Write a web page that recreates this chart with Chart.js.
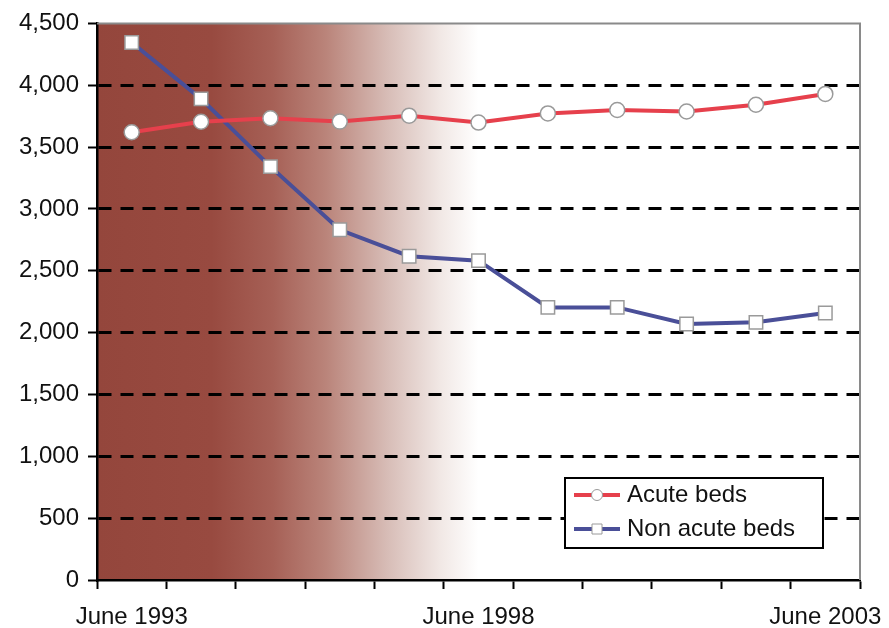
<!DOCTYPE html>
<html>
<head>
<meta charset="utf-8">
<script src="https://cdn.jsdelivr.net/npm/chart.js@4.4.0/dist/chart.umd.min.js"></script>
<style>
  html, body { margin: 0 ; padding: 0 ; background: #ffffff ; }
  #wrap { width: 889px ; height: 628px ; }
</style>
</head>
<body>
<div id="wrap"><canvas id="bedsGraph" width="889" height="628"></canvas></div>
<script>

const CATEGORIES   = [ 'June 1993', 'June 1994', 'June 1995', 'June 1996', 'June 1997', 'June 1998',
                       'June 1999', 'June 2000', 'June 2001', 'June 2002', 'June 2003' ] ;
const SHOWN_LABELS = [ 'June 1993', 'June 1998', 'June 2003' ] ;
const ACUTE_BEDS     = [ 3620, 3705, 3733, 3706, 3754, 3698, 3772, 3800, 3788, 3842, 3930 ] ;
const NON_ACUTE_BEDS = [ 4345, 3890, 3342, 2831, 2618, 2582, 2204, 2204, 2070, 2083, 2159 ] ;
const SERIES_NAMES   = [ 'Acute beds', 'Non acute beds' ] ;
const Y_TICKS_MAX  = 4500 ;
const Y_TICKS_STEP = 500 ;

const ACUTE_COLOR     = '#e6404c' ;
const NON_ACUTE_COLOR = '#4a4f98' ;
const MARKER_BORDER   = '#9a9a9a' ;
const FONT_FAMILY     = '"Liberation Sans", Arial, sans-serif' ;

// ---------------- Plot area background (brown fading to white) ------------
const backgroundPlugin = {
    id : 'plotBackground',
    beforeDraw : function( chart ) {
        const a = chart.chartArea ;
        const ctx = chart.ctx ;
        const g = ctx.createLinearGradient( a.left, 0, a.right, 0 ) ;
        g.addColorStop( 0.00, 'rgb(148,70,60)' ) ;
        g.addColorStop( 0.15, 'rgb(152,74,64)' ) ;
        g.addColorStop( 0.23, 'rgb(166,96,86)' ) ;
        g.addColorStop( 0.30, 'rgb(186,132,122)' ) ;
        g.addColorStop( 0.38, 'rgb(215,188,182)' ) ;
        g.addColorStop( 0.45, 'rgb(241,232,229)' ) ;
        g.addColorStop( 0.50, 'rgb(255,255,255)' ) ;
        ctx.save() ;
        ctx.fillStyle = g ;
        ctx.fillRect( a.left, a.top, a.right - a.left, a.bottom - a.top ) ;
        ctx.restore() ;
    }
} ;

// ---------------- Grey frame on top / right, and the boxed legend ---------
const frameLegendPlugin = {
    id : 'frameLegend',
    afterDraw : function( chart ) {
        const a = chart.chartArea ;
        const ctx = chart.ctx ;

        ctx.save() ;
        ctx.strokeStyle = '#8a8a8a' ;
        ctx.lineWidth = 2 ;
        ctx.beginPath() ;
        ctx.moveTo( a.left, a.top ) ;
        ctx.lineTo( a.right, a.top ) ;
        ctx.lineTo( a.right, a.bottom ) ;
        ctx.stroke() ;

        const boxW = 258 ;
        const boxH = 70 ;
        const bx = a.right - 37 - boxW ;
        const by = a.bottom - 32 - boxH ;
        ctx.fillStyle = '#ffffff' ;
        ctx.fillRect( bx, by, boxW, boxH ) ;
        ctx.strokeStyle = '#000000' ;
        ctx.lineWidth = 2 ;
        ctx.strokeRect( bx, by, boxW, boxH ) ;

        ctx.font = '24px ' + FONT_FAMILY ;
        ctx.textBaseline = 'middle' ;
        ctx.textAlign = 'left' ;

        const ds = chart.data.datasets ;
        for( var i=0; i<ds.length; i++ ) {
            const rowY = by + 17 + i * 34 ;
            const lx = bx + 9 ;
            ctx.strokeStyle = ds[i].borderColor ;
            ctx.lineWidth = 4 ;
            ctx.beginPath() ;
            ctx.moveTo( lx, rowY ) ;
            ctx.lineTo( lx + 46, rowY ) ;
            ctx.stroke() ;

            ctx.fillStyle = '#ffffff' ;
            ctx.strokeStyle = MARKER_BORDER ;
            ctx.lineWidth = 1 ;
            ctx.beginPath() ;
            if( ds[i].pointStyle == 'rect' ) {
                ctx.rect( lx + 18, rowY - 5, 10, 10 ) ;
            }
            else {
                ctx.arc( lx + 23, rowY, 5.5, 0, Math.PI * 2 ) ;
            }
            ctx.fill() ;
            ctx.stroke() ;

            ctx.fillStyle = '#111111' ;
            ctx.fillText( ds[i].label, lx + 53, rowY ) ;
        }
        ctx.restore() ;
    }
} ;

const data = {
    labels : CATEGORIES,
    datasets : [
        {
            label            : SERIES_NAMES[0],
            data             : ACUTE_BEDS,
            borderColor      : ACUTE_COLOR,
            backgroundColor  : ACUTE_COLOR,
            borderWidth      : 4,
            tension          : 0,
            pointStyle       : 'circle',
            pointRadius      : 7.5,
            pointBackgroundColor : '#ffffff',
            pointBorderColor : MARKER_BORDER,
            pointBorderWidth : 1.5,
        },
        {
            label            : SERIES_NAMES[1],
            data             : NON_ACUTE_BEDS,
            borderColor      : NON_ACUTE_COLOR,
            backgroundColor  : NON_ACUTE_COLOR,
            borderWidth      : 4,
            tension          : 0,
            pointStyle       : 'rect',
            pointRadius      : 9.5,
            pointBackgroundColor : '#ffffff',
            pointBorderColor : MARKER_BORDER,
            pointBorderWidth : 1.5,
        },
    ]
} ;

const options = {
    responsive : false,
    animation : false,
    layout : {
        padding : { top: 21, right: 29, left: 0, bottom: 0 }
    },
    plugins : {
        legend : { display: false },
        tooltip : { enabled: false },
    },
    scales : {
        x : {
            type : 'category',
            offset : true,
            grid : {
                offset : true,
                drawOnChartArea : false,
                tickLength : 9,
                tickColor : '#000000',
                tickWidth : 2,
            },
            border : { color: '#000000', width: 2.5 },
            ticks : {
                autoSkip : false,
                maxRotation : 0,
                padding : 14,
                color : '#111111',
                font : { family: FONT_FAMILY, size: 24 },
                callback : function( value ) {
                    const lbl = this.getLabelForValue( value ) ;
                    return SHOWN_LABELS.indexOf( lbl ) >= 0 ? lbl : '' ;
                }
            },
            afterFit : function( scale ) {
                // the outer labels may hang past the plot edges, as in the original
                scale.height = 48 ;
                scale.paddingLeft = 0 ;
                scale.paddingRight = 0 ;
            }
        },
        y : {
            min : 0,
            max : Y_TICKS_MAX,
            grid : {
                color : function( c ) {
                    const v = c.tick ? c.tick.value : null ;
                    return ( v === Y_TICKS_MAX || v === 0 ) ? 'rgba(0,0,0,0)' : '#000000' ;
                },
                lineWidth : 3,
                tickLength : 9,
                tickColor : '#000000',
                tickWidth : 2,
                tickBorderDash : [],
            },
            border : { color: '#000000', width: 2.5, dash: [ 13, 9 ] },
            ticks : {
                stepSize : Y_TICKS_STEP,
                padding : 9,
                color : '#111111',
                font : { family: FONT_FAMILY, size: 24 },
                callback : function( value ) {
                    return value.toLocaleString( 'en-US' ) ;
                }
            },
            afterFit : function( scale ) { scale.width = 97 ; }
        }
    }
} ;

const chart = new Chart( document.getElementById( 'bedsGraph' ), {
    type : 'line',
    data : data,
    options : options,
    plugins : [ backgroundPlugin, frameLegendPlugin ]
} ) ;
</script>
</body>
</html>
